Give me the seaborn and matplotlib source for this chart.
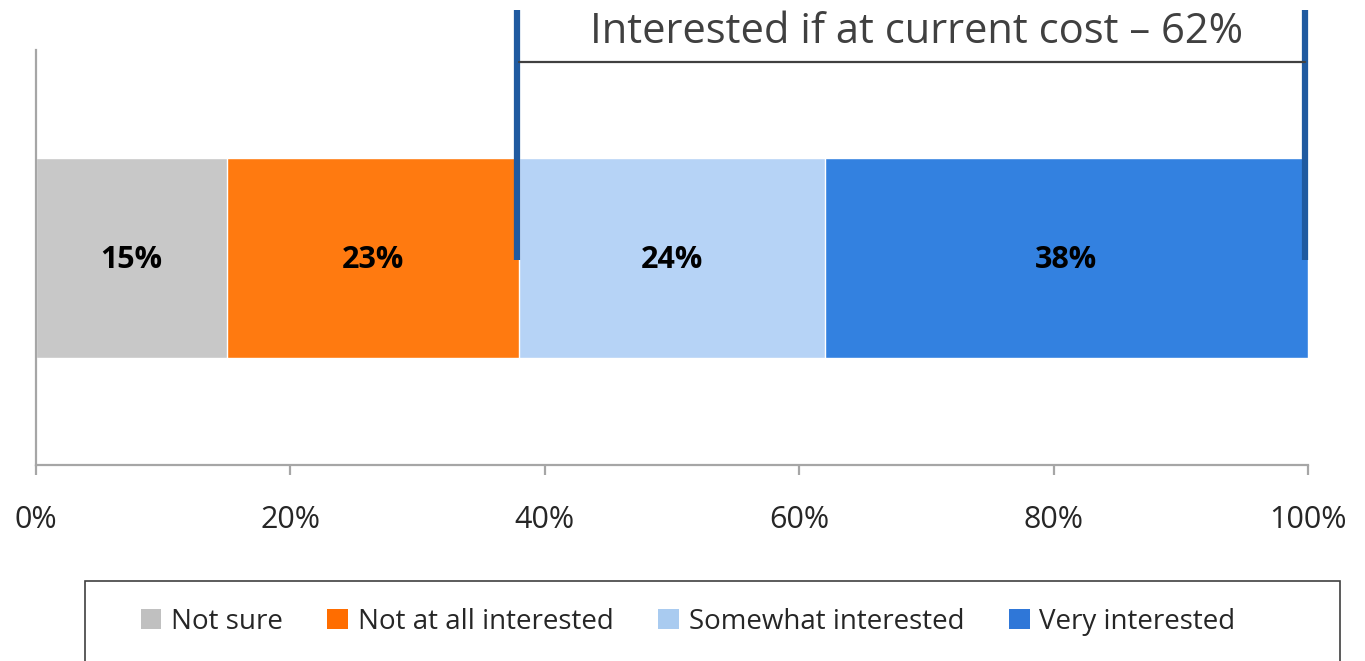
import matplotlib
matplotlib.use("Agg")
import matplotlib.pyplot as plt
import seaborn as sns
import pandas as pd
import numpy as np
from matplotlib.patches import Rectangle, Patch

categories = ["Not sure", "Not at all interested", "Somewhat interested", "Very interested"]
values = [15, 23, 24, 38]
colors = ["#C8C8C8", "#FF7A10", "#B6D3F6", "#3381E0"]
legend_colors = ["#C0C0C0", "#FF6D00", "#A9CBF0", "#2F77D8"]
bracket_start = 38
bracket_end = 100
bracket_label = "Interested if at current cost \u2013 62%"
xticks = [0, 20, 40, 60, 80, 100]
xticklabels = ["0%", "20%", "40%", "60%", "80%", "100%"]

sns.set_style("white")
plt.rcParams['font.family'] = ['Open Sans', 'DejaVu Sans']

fig = plt.figure(figsize=(13.65, 6.61), dpi=100)
ax = fig.add_axes([36/1365, 1-465/661, (1308-36)/1365, (465-50)/661])

cum = np.cumsum(values)
df = pd.DataFrame({"row": ["r"] * len(values), "cum": cum, "cat": categories})
for i in range(len(values) - 1, -1, -1):
    sns.barplot(data=df.iloc[[i]], x="cum", y="row", color=colors[i], orient="h",
                width=0.8, edgecolor="white", linewidth=1, ax=ax, saturation=1)

starts = np.concatenate([[0], cum[:-1]])
for s, v in zip(starts, values):
    ax.text(s + v / 2, 0.01, f"{v}%", ha="center", va="center", fontsize=22,
            fontweight="bold", color="black")

ax.set_xlim(0, 100)
ax.set_ylim(0.828, -0.832)
ax.set_xticks(xticks)
ax.set_xticklabels(xticklabels, fontsize=22)
ax.set_yticks([])
ax.set_xlabel("")
ax.set_ylabel("")
for sp in ["top", "right"]:
    ax.spines[sp].set_visible(False)
for sp in ["left", "bottom"]:
    ax.spines[sp].set_color("#A6A6A6")
    ax.spines[sp].set_linewidth(1.6)
ax.tick_params(axis="x", bottom=True, direction="out", length=7, width=1.6,
               color="#A6A6A6", pad=22)

# bracket
for xb in [bracket_start, bracket_end]:
    ax.plot([xb - 0.2, xb - 0.2], [-0.992, 0.008], color="#1F5AA0", lw=4.5,
            clip_on=False, solid_capstyle="butt", zorder=5)
ax.plot([bracket_start, bracket_end - 0.2], [-0.784, -0.784], color="#404040", lw=1.6,
        clip_on=False, zorder=5)
ax.text((bracket_start + bracket_end) / 2 + 0.2, -0.905, bracket_label, ha="center",
        va="center", fontsize=30, color="#404040", clip_on=False)

# legend
handles = [Patch(facecolor=c, edgecolor="none") for c in legend_colors]
leg = fig.legend(handles, categories, loc="center", bbox_to_anchor=(688/1365, 1-622/661),
                 ncol=4, frameon=False, fontsize=20, handlelength=0.75, handleheight=0.75,
                 handletextpad=0.35, columnspacing=1.6)
fig.patches.append(Rectangle((85/1365, -0.05), (1340-85)/1365, 0.05 + 1-581/661,
                             transform=fig.transFigure, fill=False, edgecolor="#404040",
                             lw=1.2, clip_on=False))

fig.savefig("out.png", dpi=100)
